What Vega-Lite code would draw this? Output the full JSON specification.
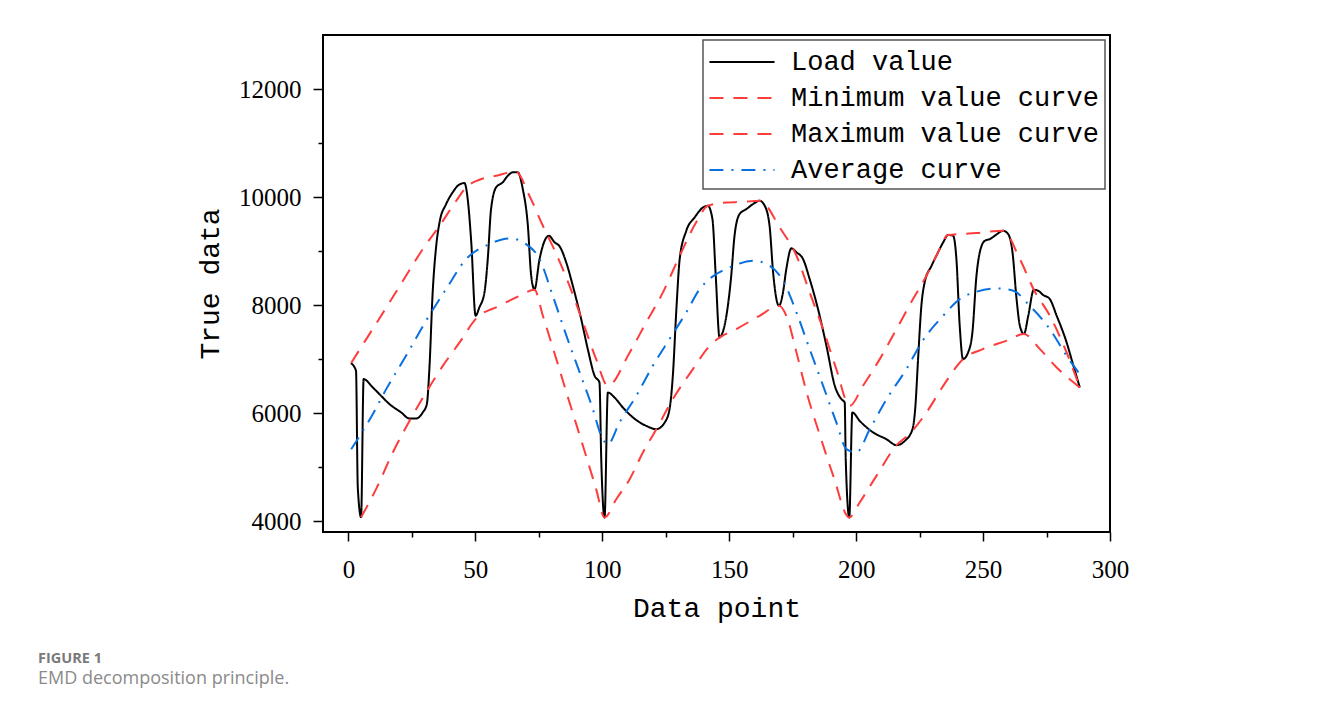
{
  "$schema": "https://vega.github.io/schema/vega-lite/v6.json",
  "width": 787,
  "height": 497,
  "autosize": {"type": "none"},
  "padding": {"left": 323, "top": 35, "right": 217, "bottom": 179},
  "background": "white",
  "title": {
    "text": "FIGURE 1",
    "subtitle": "EMD decomposition principle.",
    "orient": "bottom",
    "anchor": "start",
    "frame": "group",
    "dx": -285,
    "offset": 30,
    "font": "Open Sans",
    "fontSize": 14.5,
    "fontWeight": "bold",
    "color": "#7a7a7a",
    "subtitleFont": "Open Sans",
    "subtitleFontSize": 18,
    "subtitleColor": "#8a8a8a",
    "subtitlePadding": 3
  },
  "config": {
    "view": {"stroke": "black", "strokeWidth": 2},
    "axis": {
      "grid": false,
      "domain": false,
      "tickColor": "black",
      "tickWidth": 1.5,
      "labelColor": "black",
      "labelFont": "Liberation Serif",
      "labelFontSize": 25,
      "titleFont": "Liberation Mono",
      "titleFontSize": 28,
      "titleFontWeight": "normal",
      "titleColor": "black",
      "labelOverlap": false,
      "labelFlush": false
    }
  },
  "data": {
    "values": [
      {"x": 1, "y": 6926, "series": "Load value"},
      {"x": 3, "y": 6784, "series": "Load value"},
      {"x": 3.7, "y": 4630, "series": "Load value"},
      {"x": 5, "y": 4074, "series": "Load value"},
      {"x": 6, "y": 6630, "series": "Load value"},
      {"x": 9.6, "y": 6476, "series": "Load value"},
      {"x": 12.9, "y": 6320, "series": "Load value"},
      {"x": 16.2, "y": 6167, "series": "Load value"},
      {"x": 20.8, "y": 6013, "series": "Load value"},
      {"x": 24, "y": 5902, "series": "Load value"},
      {"x": 26.7, "y": 5902, "series": "Load value"},
      {"x": 29.3, "y": 6013, "series": "Load value"},
      {"x": 30.9, "y": 6167, "series": "Load value"},
      {"x": 31.9, "y": 6815, "series": "Load value"},
      {"x": 33.2, "y": 8235, "series": "Load value"},
      {"x": 34.6, "y": 9099, "series": "Load value"},
      {"x": 35.9, "y": 9532, "series": "Load value"},
      {"x": 38.5, "y": 9871, "series": "Load value"},
      {"x": 41.1, "y": 10088, "series": "Load value"},
      {"x": 43.1, "y": 10210, "series": "Load value"},
      {"x": 45.7, "y": 10260, "series": "Load value"},
      {"x": 47, "y": 9963, "series": "Load value"},
      {"x": 48.4, "y": 9162, "series": "Load value"},
      {"x": 50.1, "y": 7803, "series": "Load value"},
      {"x": 51.6, "y": 7958, "series": "Load value"},
      {"x": 53.6, "y": 8235, "series": "Load value"},
      {"x": 54.9, "y": 8852, "series": "Load value"},
      {"x": 56.2, "y": 9778, "series": "Load value"},
      {"x": 58.2, "y": 10180, "series": "Load value"},
      {"x": 60.8, "y": 10273, "series": "Load value"},
      {"x": 62.8, "y": 10395, "series": "Load value"},
      {"x": 64.8, "y": 10458, "series": "Load value"},
      {"x": 66.7, "y": 10458, "series": "Load value"},
      {"x": 68.7, "y": 10149, "series": "Load value"},
      {"x": 70.7, "y": 9469, "series": "Load value"},
      {"x": 72, "y": 8543, "series": "Load value"},
      {"x": 73.3, "y": 8290, "series": "Load value"},
      {"x": 75.3, "y": 8852, "series": "Load value"},
      {"x": 77.3, "y": 9191, "series": "Load value"},
      {"x": 79, "y": 9284, "series": "Load value"},
      {"x": 81.2, "y": 9162, "series": "Load value"},
      {"x": 83.2, "y": 9088, "series": "Load value"},
      {"x": 85.8, "y": 8791, "series": "Load value"},
      {"x": 88.4, "y": 8358, "series": "Load value"},
      {"x": 91.7, "y": 7741, "series": "Load value"},
      {"x": 94.3, "y": 7185, "series": "Load value"},
      {"x": 97, "y": 6691, "series": "Load value"},
      {"x": 98.9, "y": 6569, "series": "Load value"},
      {"x": 99.6, "y": 5148, "series": "Load value"},
      {"x": 100.9, "y": 4069, "series": "Load value"},
      {"x": 102.2, "y": 6383, "series": "Load value"},
      {"x": 104.8, "y": 6291, "series": "Load value"},
      {"x": 108.1, "y": 6106, "series": "Load value"},
      {"x": 112.1, "y": 5920, "series": "Load value"},
      {"x": 117.3, "y": 5765, "series": "Load value"},
      {"x": 121.3, "y": 5704, "series": "Load value"},
      {"x": 124.6, "y": 5828, "series": "Load value"},
      {"x": 126.5, "y": 6074, "series": "Load value"},
      {"x": 127.8, "y": 6691, "series": "Load value"},
      {"x": 129.2, "y": 7926, "series": "Load value"},
      {"x": 130.5, "y": 8852, "series": "Load value"},
      {"x": 133.1, "y": 9376, "series": "Load value"},
      {"x": 136.4, "y": 9624, "series": "Load value"},
      {"x": 139.7, "y": 9809, "series": "Load value"},
      {"x": 141.6, "y": 9839, "series": "Load value"},
      {"x": 143.4, "y": 9593, "series": "Load value"},
      {"x": 144.7, "y": 8543, "series": "Load value"},
      {"x": 146.2, "y": 7402, "series": "Load value"},
      {"x": 147.6, "y": 7520, "series": "Load value"},
      {"x": 148.9, "y": 7803, "series": "Load value"},
      {"x": 150.8, "y": 8543, "series": "Load value"},
      {"x": 152.1, "y": 9284, "series": "Load value"},
      {"x": 154.1, "y": 9686, "series": "Load value"},
      {"x": 156.8, "y": 9778, "series": "Load value"},
      {"x": 159.4, "y": 9871, "series": "Load value"},
      {"x": 162, "y": 9932, "series": "Load value"},
      {"x": 164, "y": 9839, "series": "Load value"},
      {"x": 165.9, "y": 9469, "series": "Load value"},
      {"x": 167.3, "y": 8605, "series": "Load value"},
      {"x": 168.6, "y": 8111, "series": "Load value"},
      {"x": 169.6, "y": 7987, "series": "Load value"},
      {"x": 171.2, "y": 8235, "series": "Load value"},
      {"x": 172.5, "y": 8667, "series": "Load value"},
      {"x": 174.5, "y": 9051, "series": "Load value"},
      {"x": 176.5, "y": 8977, "series": "Load value"},
      {"x": 179.1, "y": 8852, "series": "Load value"},
      {"x": 181.7, "y": 8482, "series": "Load value"},
      {"x": 185, "y": 7926, "series": "Load value"},
      {"x": 188.3, "y": 7247, "series": "Load value"},
      {"x": 191.6, "y": 6506, "series": "Load value"},
      {"x": 194.2, "y": 6259, "series": "Load value"},
      {"x": 195.5, "y": 6198, "series": "Load value"},
      {"x": 195.9, "y": 5148, "series": "Load value"},
      {"x": 197.3, "y": 4069, "series": "Load value"},
      {"x": 198.5, "y": 6013, "series": "Load value"},
      {"x": 201.4, "y": 5858, "series": "Load value"},
      {"x": 206.7, "y": 5643, "series": "Load value"},
      {"x": 211.9, "y": 5519, "series": "Load value"},
      {"x": 215.9, "y": 5408, "series": "Load value"},
      {"x": 219.2, "y": 5487, "series": "Load value"},
      {"x": 222.2, "y": 5704, "series": "Load value"},
      {"x": 223.3, "y": 6100, "series": "Load value"},
      {"x": 224.4, "y": 7000, "series": "Load value"},
      {"x": 225.7, "y": 7987, "series": "Load value"},
      {"x": 227, "y": 8421, "series": "Load value"},
      {"x": 229.7, "y": 8728, "series": "Load value"},
      {"x": 231.6, "y": 8913, "series": "Load value"},
      {"x": 234.3, "y": 9162, "series": "Load value"},
      {"x": 236.2, "y": 9297, "series": "Load value"},
      {"x": 238.2, "y": 9284, "series": "Load value"},
      {"x": 239.5, "y": 8852, "series": "Load value"},
      {"x": 240.8, "y": 7617, "series": "Load value"},
      {"x": 242.1, "y": 7000, "series": "Load value"},
      {"x": 244.1, "y": 7124, "series": "Load value"},
      {"x": 245.8, "y": 7494, "series": "Load value"},
      {"x": 247.4, "y": 8543, "series": "Load value"},
      {"x": 248.7, "y": 8976, "series": "Load value"},
      {"x": 250.7, "y": 9191, "series": "Load value"},
      {"x": 252.7, "y": 9223, "series": "Load value"},
      {"x": 255, "y": 9297, "series": "Load value"},
      {"x": 257.9, "y": 9376, "series": "Load value"},
      {"x": 259.9, "y": 9315, "series": "Load value"},
      {"x": 261.6, "y": 8976, "series": "Load value"},
      {"x": 263.2, "y": 8111, "series": "Load value"},
      {"x": 264.5, "y": 7617, "series": "Load value"},
      {"x": 266.1, "y": 7463, "series": "Load value"},
      {"x": 267.8, "y": 7803, "series": "Load value"},
      {"x": 270, "y": 8284, "series": "Load value"},
      {"x": 271.7, "y": 8266, "series": "Load value"},
      {"x": 273.7, "y": 8186, "series": "Load value"},
      {"x": 276.1, "y": 8124, "series": "Load value"},
      {"x": 279, "y": 7803, "series": "Load value"},
      {"x": 282.9, "y": 7310, "series": "Load value"},
      {"x": 285.6, "y": 6876, "series": "Load value"},
      {"x": 288.1, "y": 6476, "series": "Load value"},

      {"x": 5, "y": 4074, "series": "Minimum value curve"},
      {"x": 10.9, "y": 4593, "series": "Minimum value curve"},
      {"x": 17.5, "y": 5272, "series": "Minimum value curve"},
      {"x": 24, "y": 5850, "series": "Minimum value curve"},
      {"x": 30.6, "y": 6383, "series": "Minimum value curve"},
      {"x": 37.2, "y": 6876, "series": "Minimum value curve"},
      {"x": 43.8, "y": 7309, "series": "Minimum value curve"},
      {"x": 50.1, "y": 7741, "series": "Minimum value curve"},
      {"x": 59.5, "y": 7987, "series": "Minimum value curve"},
      {"x": 67.4, "y": 8173, "series": "Minimum value curve"},
      {"x": 73.3, "y": 8284, "series": "Minimum value curve"},
      {"x": 76.6, "y": 7803, "series": "Minimum value curve"},
      {"x": 81.9, "y": 7000, "series": "Minimum value curve"},
      {"x": 87.1, "y": 6198, "series": "Minimum value curve"},
      {"x": 92.4, "y": 5395, "series": "Minimum value curve"},
      {"x": 97.6, "y": 4593, "series": "Minimum value curve"},
      {"x": 100.9, "y": 4069, "series": "Minimum value curve"},
      {"x": 105.5, "y": 4407, "series": "Minimum value curve"},
      {"x": 110.8, "y": 4778, "series": "Minimum value curve"},
      {"x": 116, "y": 5272, "series": "Minimum value curve"},
      {"x": 121.3, "y": 5704, "series": "Minimum value curve"},
      {"x": 127.8, "y": 6259, "series": "Minimum value curve"},
      {"x": 135.7, "y": 6815, "series": "Minimum value curve"},
      {"x": 142.3, "y": 7247, "series": "Minimum value curve"},
      {"x": 146.2, "y": 7400, "series": "Minimum value curve"},
      {"x": 152.8, "y": 7556, "series": "Minimum value curve"},
      {"x": 162, "y": 7803, "series": "Minimum value curve"},
      {"x": 169.6, "y": 7987, "series": "Minimum value curve"},
      {"x": 172.5, "y": 7803, "series": "Minimum value curve"},
      {"x": 176.5, "y": 7124, "series": "Minimum value curve"},
      {"x": 180.5, "y": 6383, "series": "Minimum value curve"},
      {"x": 185.8, "y": 5580, "series": "Minimum value curve"},
      {"x": 191, "y": 4839, "series": "Minimum value curve"},
      {"x": 197.3, "y": 4069, "series": "Minimum value curve"},
      {"x": 201.4, "y": 4346, "series": "Minimum value curve"},
      {"x": 208, "y": 4839, "series": "Minimum value curve"},
      {"x": 215.9, "y": 5408, "series": "Minimum value curve"},
      {"x": 221.1, "y": 5620, "series": "Minimum value curve"},
      {"x": 227.7, "y": 6013, "series": "Minimum value curve"},
      {"x": 234.3, "y": 6506, "series": "Minimum value curve"},
      {"x": 242.1, "y": 7000, "series": "Minimum value curve"},
      {"x": 249.9, "y": 7185, "series": "Minimum value curve"},
      {"x": 259.1, "y": 7339, "series": "Minimum value curve"},
      {"x": 266.1, "y": 7463, "series": "Minimum value curve"},
      {"x": 272.4, "y": 7185, "series": "Minimum value curve"},
      {"x": 279, "y": 6846, "series": "Minimum value curve"},
      {"x": 288.1, "y": 6476, "series": "Minimum value curve"},

      {"x": 1.1, "y": 6930, "series": "Maximum value curve"},
      {"x": 8.3, "y": 7463, "series": "Maximum value curve"},
      {"x": 16.2, "y": 8050, "series": "Maximum value curve"},
      {"x": 22.7, "y": 8543, "series": "Maximum value curve"},
      {"x": 29.3, "y": 9037, "series": "Maximum value curve"},
      {"x": 35.9, "y": 9469, "series": "Maximum value curve"},
      {"x": 42.5, "y": 9932, "series": "Maximum value curve"},
      {"x": 46.4, "y": 10180, "series": "Maximum value curve"},
      {"x": 51.6, "y": 10321, "series": "Maximum value curve"},
      {"x": 58.2, "y": 10395, "series": "Maximum value curve"},
      {"x": 66, "y": 10469, "series": "Maximum value curve"},
      {"x": 71.3, "y": 10025, "series": "Maximum value curve"},
      {"x": 76.6, "y": 9469, "series": "Maximum value curve"},
      {"x": 81.9, "y": 8945, "series": "Maximum value curve"},
      {"x": 87.1, "y": 8358, "series": "Maximum value curve"},
      {"x": 92.4, "y": 7680, "series": "Maximum value curve"},
      {"x": 97.6, "y": 7000, "series": "Maximum value curve"},
      {"x": 102.2, "y": 6506, "series": "Maximum value curve"},
      {"x": 110.8, "y": 7124, "series": "Maximum value curve"},
      {"x": 117.3, "y": 7680, "series": "Maximum value curve"},
      {"x": 123.9, "y": 8235, "series": "Maximum value curve"},
      {"x": 130.5, "y": 8914, "series": "Maximum value curve"},
      {"x": 137, "y": 9532, "series": "Maximum value curve"},
      {"x": 141.6, "y": 9839, "series": "Maximum value curve"},
      {"x": 148.9, "y": 9901, "series": "Maximum value curve"},
      {"x": 155, "y": 9910, "series": "Maximum value curve"},
      {"x": 162, "y": 9932, "series": "Maximum value curve"},
      {"x": 170.3, "y": 9408, "series": "Maximum value curve"},
      {"x": 176.5, "y": 8914, "series": "Maximum value curve"},
      {"x": 181.7, "y": 8235, "series": "Maximum value curve"},
      {"x": 187, "y": 7556, "series": "Maximum value curve"},
      {"x": 192.2, "y": 6815, "series": "Maximum value curve"},
      {"x": 197.5, "y": 6136, "series": "Maximum value curve"},
      {"x": 202.7, "y": 6506, "series": "Maximum value curve"},
      {"x": 209.3, "y": 7000, "series": "Maximum value curve"},
      {"x": 215.9, "y": 7556, "series": "Maximum value curve"},
      {"x": 222.4, "y": 8111, "series": "Maximum value curve"},
      {"x": 227.7, "y": 8543, "series": "Maximum value curve"},
      {"x": 232, "y": 8950, "series": "Maximum value curve"},
      {"x": 236.2, "y": 9297, "series": "Maximum value curve"},
      {"x": 247.4, "y": 9334, "series": "Maximum value curve"},
      {"x": 257.9, "y": 9376, "series": "Maximum value curve"},
      {"x": 264.5, "y": 8852, "series": "Maximum value curve"},
      {"x": 270, "y": 8284, "series": "Maximum value curve"},
      {"x": 276.3, "y": 7803, "series": "Maximum value curve"},
      {"x": 282.9, "y": 7124, "series": "Maximum value curve"},
      {"x": 288.1, "y": 6476, "series": "Maximum value curve"},

      {"x": 1.1, "y": 5333, "series": "Average curve"},
      {"x": 9.6, "y": 5981, "series": "Average curve"},
      {"x": 14.9, "y": 6445, "series": "Average curve"},
      {"x": 22.7, "y": 7062, "series": "Average curve"},
      {"x": 30.6, "y": 7710, "series": "Average curve"},
      {"x": 38.5, "y": 8297, "series": "Average curve"},
      {"x": 46.4, "y": 8852, "series": "Average curve"},
      {"x": 55.6, "y": 9130, "series": "Average curve"},
      {"x": 63.5, "y": 9235, "series": "Average curve"},
      {"x": 70, "y": 9130, "series": "Average curve"},
      {"x": 75.3, "y": 8852, "series": "Average curve"},
      {"x": 80.5, "y": 8173, "series": "Average curve"},
      {"x": 85.8, "y": 7445, "series": "Average curve"},
      {"x": 91.1, "y": 6754, "series": "Average curve"},
      {"x": 96.3, "y": 6074, "series": "Average curve"},
      {"x": 99.6, "y": 5580, "series": "Average curve"},
      {"x": 102.2, "y": 5426, "series": "Average curve"},
      {"x": 106.8, "y": 5828, "series": "Average curve"},
      {"x": 113.4, "y": 6320, "series": "Average curve"},
      {"x": 119.9, "y": 6876, "series": "Average curve"},
      {"x": 126.5, "y": 7371, "series": "Average curve"},
      {"x": 133.1, "y": 7865, "series": "Average curve"},
      {"x": 138.4, "y": 8297, "series": "Average curve"},
      {"x": 143, "y": 8513, "series": "Average curve"},
      {"x": 150.2, "y": 8698, "series": "Average curve"},
      {"x": 159.4, "y": 8821, "series": "Average curve"},
      {"x": 165.9, "y": 8728, "series": "Average curve"},
      {"x": 171.2, "y": 8450, "series": "Average curve"},
      {"x": 176.5, "y": 7865, "series": "Average curve"},
      {"x": 181.7, "y": 7185, "series": "Average curve"},
      {"x": 187, "y": 6506, "series": "Average curve"},
      {"x": 192.2, "y": 5828, "series": "Average curve"},
      {"x": 196.2, "y": 5333, "series": "Average curve"},
      {"x": 200.1, "y": 5272, "series": "Average curve"},
      {"x": 205.4, "y": 5704, "series": "Average curve"},
      {"x": 212, "y": 6259, "series": "Average curve"},
      {"x": 219.8, "y": 6815, "series": "Average curve"},
      {"x": 226.4, "y": 7355, "series": "Average curve"},
      {"x": 234.3, "y": 7803, "series": "Average curve"},
      {"x": 240.8, "y": 8111, "series": "Average curve"},
      {"x": 247.4, "y": 8247, "series": "Average curve"},
      {"x": 255.3, "y": 8310, "series": "Average curve"},
      {"x": 261.9, "y": 8266, "series": "Average curve"},
      {"x": 268.4, "y": 7987, "series": "Average curve"},
      {"x": 276.3, "y": 7556, "series": "Average curve"},
      {"x": 282.9, "y": 7062, "series": "Average curve"},
      {"x": 288.1, "y": 6722, "series": "Average curve"}
    ]
  },
  "mark": {"type": "line", "strokeWidth": 2, "clip": true, "interpolate": "monotone"},
  "encoding": {
    "x": {
      "field": "x",
      "type": "quantitative",
      "scale": {"domain": [-10, 300], "nice": false, "zero": false},
      "axis": {
        "title": "Data point",
        "values": [0, 25, 50, 75, 100, 125, 150, 175, 200, 225, 250, 275, 300],
        "labelExpr": "datum.value % 50 === 0 ? datum.label : ''",
        "tickSize": {"condition": {"test": "datum.value % 50 === 0", "value": 9}, "value": 5},
        "labelPadding": 16,
        "titlePadding": 12
      }
    },
    "y": {
      "field": "y",
      "type": "quantitative",
      "scale": {"domain": [3800, 13000], "nice": false, "zero": false},
      "axis": {
        "title": "True data",
        "values": [4000, 5000, 6000, 7000, 8000, 9000, 10000, 11000, 12000],
        "format": "d",
        "labelExpr": "datum.value % 2000 === 0 ? datum.label : ''",
        "tickSize": {"condition": {"test": "datum.value % 2000 === 0", "value": 10}, "value": 5},
        "labelPadding": 12,
        "titlePadding": 14
      }
    },
    "color": {
      "field": "series",
      "type": "nominal",
      "scale": {
        "domain": ["Load value", "Minimum value curve", "Maximum value curve", "Average curve"],
        "range": ["#000000", "#ff3c3c", "#ff3c3c", "#0a70e0"]
      },
      "legend": {
        "title": null,
        "orient": "top-right",
        "offset": 5,
        "padding": 6,
        "strokeColor": "#555555",
        "fillColor": "white",
        "symbolType": "M-2.17,0H2.17",
        "symbolSize": 900,
        "symbolStrokeWidth": 2,
        "symbolOffset": 17,
        "labelOffset": 33,
        "rowPadding": 7,
        "labelFont": "Liberation Mono",
        "labelFontSize": 27,
        "labelColor": "black",
        "labelLimit": 500,
        "encode": {"legend": {"update": {"strokeWidth": {"value": 1.5}}}}
      }
    },
    "strokeDash": {
      "field": "series",
      "type": "nominal",
      "scale": {
        "domain": ["Load value", "Minimum value curve", "Maximum value curve", "Average curve"],
        "range": [[1, 0], [14, 10], [14, 10], [14, 8, 2, 8]]
      },
      "legend": null
    }
  }
}
